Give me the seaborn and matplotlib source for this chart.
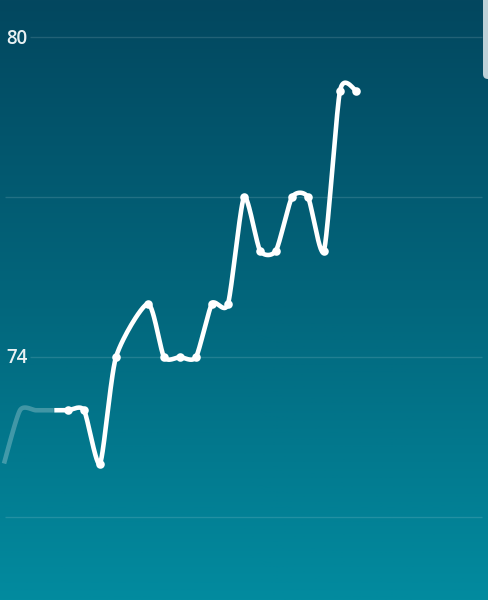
import numpy as np
import matplotlib
matplotlib.use("Agg")
import matplotlib.pyplot as plt
import seaborn as sns
from matplotlib.colors import LinearSegmentedColormap
from matplotlib.patches import FancyBboxPatch
from matplotlib.transforms import IdentityTransform


# ── data ─────────────────────────────────────────────────────────────────────
days = [0, 1, 2, 3, 4, 5, 6, 7, 9, 10, 11, 12, 13, 14, 15, 16, 17, 18, 19, 20, 21, 22]
values = [72, 73, 73, 73, 73, 73, 72, 74, 75, 74, 74, 74, 75, 75, 77, 76, 76, 77, 77, 76, 79, 79]
grid_levels = [80, 77, 74, 71]
labelled_levels = [80, 74]
visible_from = 3.125   # day where the bright part of the line begins

BG_TOP = "#03475f"
BG_BOTTOM = "#028b9f"


def cardinal_curve(xs, ys, k=0.113, n=30):
    """Cardinal spline (like d3.curveCardinal with some tension), endpoints repeated."""
    px = [xs[0]] + list(xs) + [xs[-1]]
    py = [ys[0]] + list(ys) + [ys[-1]]
    out_x, out_y = [], []
    t = np.linspace(0, 1, n)
    for i in range(1, len(px) - 2):
        x0, x1, x2, x3 = px[i - 1], px[i], px[i + 1], px[i + 2]
        y0, y1, y2, y3 = py[i - 1], py[i], py[i + 1], py[i + 2]
        bx = [x1, x1 + k * (x2 - x0), x2 - k * (x3 - x1), x2]
        by = [y1, y1 + k * (y2 - y0), y2 - k * (y3 - y1), y2]
        w = [(1 - t) ** 3, 3 * (1 - t) ** 2 * t, 3 * (1 - t) * t ** 2, t ** 3]
        out_x.extend(sum(wi * b for wi, b in zip(w, bx)))
        out_y.extend(sum(wi * b for wi, b in zip(w, by)))
    return np.array(out_x), np.array(out_y)


sns.set_style("white")
plt.rcParams["font.family"] = ["Open Sans", "DejaVu Sans"]

fig = plt.figure(figsize=(4.89, 6.0), dpi=100)
ax = fig.add_axes([0, 0, 1, 1])
xlim = (-0.25, 30.3125)
ylim = (69.437, 80.704)

# gradient background
cmap = LinearSegmentedColormap.from_list("bg", [BG_TOP, "#02667c", BG_BOTTOM])
grad = np.linspace(0, 1, 256).reshape(-1, 1)
ax.imshow(grad, cmap=cmap, aspect="auto", extent=[xlim[0], xlim[1], ylim[0], ylim[1]],
          origin="upper", zorder=0)

# grid lines + labels
for lvl in grid_levels:
    start = 1.65 if lvl in labelled_levels else 0.06
    ax.hlines(lvl, start, 29.9, color="white", alpha=0.13, linewidth=1.0, zorder=1)
for lvl in labelled_levels:
    ax.text(0.16, lvl - 0.02, str(lvl), color="#e9f1f3", fontsize=13.5, fontweight="semibold",
            va="center", ha="left", zorder=2)

# line (faded part left of the start, bright afterwards)
cx, cy = cardinal_curve(days, values)
faded = cx <= visible_from
bright = cx >= visible_from
sns.lineplot(x=cx[faded], y=cy[faded], sort=False, estimator=None, color="white",
             alpha=0.25, linewidth=3.3, ax=ax, zorder=3)
sns.lineplot(x=cx[bright], y=cy[bright], sort=False, estimator=None, color="white",
             linewidth=3.3, ax=ax, zorder=4)
for ln in ax.get_lines():
    ln.set_solid_capstyle("butt")
    ln.set_solid_joinstyle("round")

pts_x = [d for d in days if d > visible_from]
pts_y = [v for d, v in zip(days, values) if d > visible_from]
sns.scatterplot(x=pts_x, y=pts_y, color="white", s=38, linewidth=0, ax=ax, zorder=5)

# scrollbar thumb at the top right
ax.add_patch(FancyBboxPatch((483, 521), 14, 90, boxstyle="round,pad=0,rounding_size=5",
                            transform=IdentityTransform(), facecolor="#bfd2d8",
                            edgecolor="none", zorder=6, clip_on=False))

ax.set_xlim(*xlim)
ax.set_ylim(*ylim)
ax.axis("off")

fig.savefig("out.png", dpi=100)
plt.close(fig)
